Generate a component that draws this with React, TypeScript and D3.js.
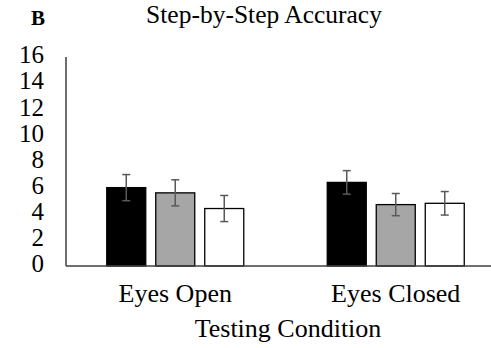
import React from "react";
import * as d3 from "d3";

const categories = ["Eyes Open", "Eyes Closed"];
const seriesNames = ["S1", "S2", "S3"];
const seriesFills = ["#000000", "#a6a6a6", "#ffffff"];
const values = [
  [6.0, 5.6, 4.4],
  [6.4, 4.7, 4.8],
];
const errors = [
  [1.0, 1.0, 1.0],
  [0.9, 0.85, 0.9],
];
const yTicks = [0, 2, 4, 6, 8, 10, 12, 14, 16];

export default function App() {
  const W = 491, H = 348;
  const x0 = d3.scaleBand().domain(categories).range([65, 506]).paddingInner(0).paddingOuter(0);
  const y = d3.scaleLinear().domain([0, 16]).range([266, 57]);
  const barW = 39;
  const gap = 10;
  const font = "Liberation Serif";
  const ts = { fontFamily: font };
  return (
    <svg width={W} height={H} style={{ position: "absolute", left: 0, top: 0, background: "#fff" }}>
      <text x={31} y={25} style={ts} fontWeight="bold" fontSize={21} fill="#000">B</text>
      <text x={264} y={23} textAnchor="middle" style={ts} fontSize={25.5} fill="#000">Step-by-Step Accuracy</text>
      {yTicks.map((t) => (
        <text key={t} x={44} y={y(t) - 2} dy={"0.33em"} textAnchor="end" style={ts} fontSize={25} fill="#000">{t}</text>
      ))}
      {categories.map((c, ci) => {
        const cx = x0(c)! + x0.bandwidth() / 2;
        const total = barW * 3 + gap * 2;
        return (
          <g key={c}>
            {seriesNames.map((s, si) => {
              const bx = cx - total / 2 + si * (barW + gap);
              const v = values[ci][si];
              const e = errors[ci][si];
              const mx = bx + barW / 2;
              return (
                <g key={s}>
                  <rect x={bx} y={y(v)} width={barW} height={y(0) - y(v)} fill={seriesFills[si]} stroke="#000" strokeWidth={1.3} />
                  <line x1={mx} x2={mx} y1={y(v + e)} y2={y(v - e)} stroke="#595959" strokeWidth={1.5} />
                  <line x1={mx - 4} x2={mx + 4} y1={y(v + e)} y2={y(v + e)} stroke="#595959" strokeWidth={1.5} />
                  <line x1={mx - 4} x2={mx + 4} y1={y(v - e)} y2={y(v - e)} stroke="#595959" strokeWidth={1.5} />
                </g>
              );
            })}
            <text x={cx} y={302} textAnchor="middle" style={ts} fontSize={26} fill="#000">{c}</text>
          </g>
        );
      })}
      <line x1={66} x2={66} y1={57} y2={266} stroke="#404040" strokeWidth={1.5} />
      <line x1={66} x2={491} y1={266} y2={266} stroke="#404040" strokeWidth={1.5} />
      <text x={288} y={337} textAnchor="middle" style={ts} fontSize={26} fill="#000">Testing Condition</text>
    </svg>
  );
}
